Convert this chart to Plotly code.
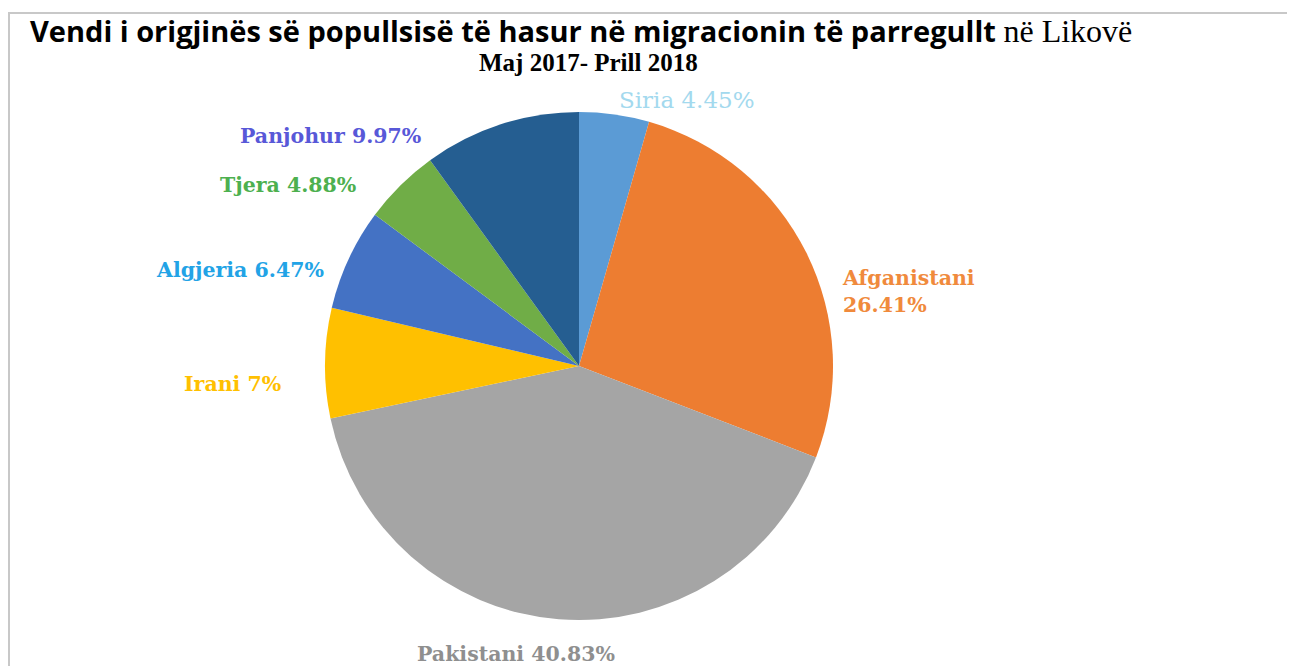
import plotly.graph_objects as go

# të dhënat
vendet = ["Siria", "Afganistani", "Pakistani", "Irani", "Algjeria", "Tjera", "Panjohur"]
perqindjet = [4.45, 26.41, 40.83, 7, 6.47, 4.88, 9.97]
ngjyrat = ["#5B9BD5", "#ED7D31", "#A5A5A5", "#FFC000", "#4472C4", "#70AD47", "#255E91"]
ngjyrat_tekstit = ["#A3D9EE", "#F08A3C", "#8F8F8F", "#FFC000", "#22A3E6", "#4DB04F", "#5858D8"]

# faqja ka 8px margin, prandaj figura fillon në (8, 8)
OFF = 8
W, H = 1295 - OFF, 666 - OFF
cx, cy, r = 579 - OFF, 366 - OFF, 254


def px(x, y):
    return (x - OFF) / W, 1 - (y - OFF) / H


fig = go.Figure(
    go.Pie(
        labels=vendet,
        values=perqindjet,
        sort=False,
        direction="clockwise",
        rotation=0,
        marker=dict(colors=ngjyrat, line=dict(width=0)),
        textinfo="none",
        hoverinfo="label+value",
        showlegend=False,
        domain=dict(
            x=[(cx - r) / W, (cx + r) / W],
            y=[(H - cy - r) / H, (H - cy + r) / H],
        ),
    )
)

# pozicionet e etiketave (px në dritaren e plotë)
pozicionet = {
    "Siria": (687, 100, "center"),
    "Afganistani": (840, 291, "left"),
    "Pakistani": (516, 654, "center"),
    "Irani": (232, 384, "center"),
    "Algjeria": (240, 270, "center"),
    "Tjera": (288, 185, "center"),
    "Panjohur": (330, 136, "center"),
}

annotations = []
for v, p, c in zip(vendet, perqindjet, ngjyrat_tekstit):
    x, y, al = pozicionet[v]
    sep = "<br>" if v == "Afganistani" else " "
    ax, ay = px(x, y)
    if v == "Siria":
        txt, sz = f"{v}{sep}{p:g}%", 23
    else:
        txt, sz = f"<b>{v}{sep}{p:g}%</b>", 20.5
    annotations.append(dict(
        x=ax, y=ay, xref="paper", yref="paper",
        text=txt,
        showarrow=False, xanchor=al, yanchor="middle", align=al,
        font=dict(family="DejaVu Serif", size=sz, color=c),
    ))

tx, ty = px(28, 31)
annotations.append(dict(
    x=tx, y=ty, xref="paper", yref="paper", xanchor="left", yanchor="middle",
    showarrow=False,
    text="<b>Vendi i origjinës së popullsisë të hasur në migracionin të parregullt</b>"
         " <span style='font-family:Liberation Serif;font-size:32px'>në Likovë</span>",
    font=dict(family="Open Sans", size=29, color="#000000"),
))
sx, sy = px(588, 63)
annotations.append(dict(
    x=sx, y=sy, xref="paper", yref="paper", xanchor="center", yanchor="middle",
    showarrow=False, text="<b>Maj 2017- Prill 2018</b>",
    font=dict(family="Liberation Serif", size=25, color="#000000"),
))

fig.update_layout(
    width=W, height=H,
    margin=dict(l=0, r=0, t=0, b=0),
    paper_bgcolor="white",
    plot_bgcolor="white",
    annotations=annotations,
    shapes=[
        dict(type="line", xref="paper", yref="paper", x0=0, x1=1, y0=1 - 5 / H, y1=1 - 5 / H,
             line=dict(color="#C8C8C8", width=2)),
        dict(type="line", xref="paper", yref="paper", x0=1 / W, x1=1 / W, y0=0, y1=1 - 5 / H,
             line=dict(color="#C8C8C8", width=2)),
    ],
)

fig.write_html("out.html")
